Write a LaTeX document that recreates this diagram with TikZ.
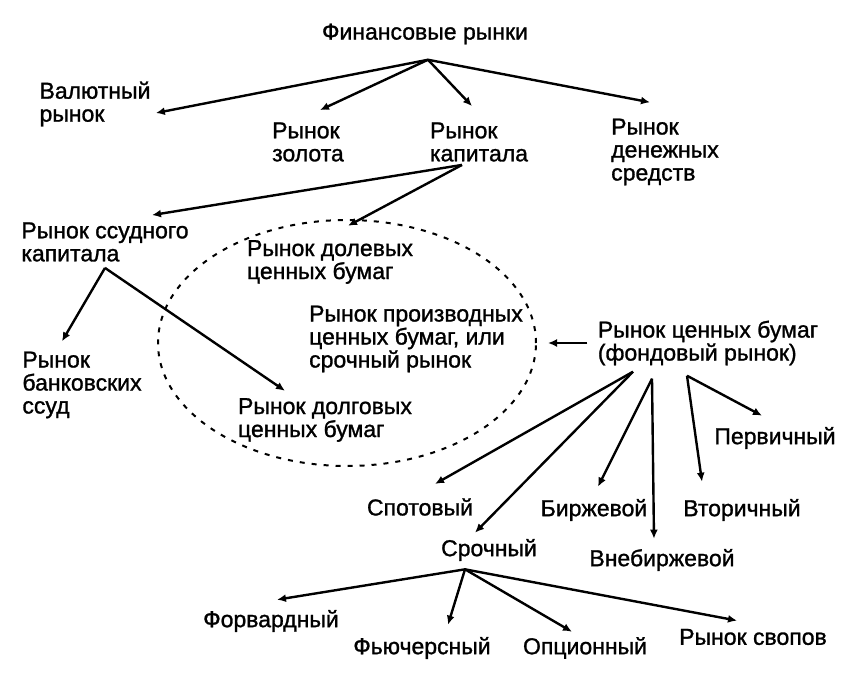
\documentclass[tikz,border=0pt]{standalone}
\usepackage{fontspec}
\setmainfont{Liberation Sans}[BoldFont = Liberation Sans, BoldFeatures = {FakeBold = 1.2}]
\usetikzlibrary{arrows.meta,shapes.geometric}

\tikzset{
	marketpicture/.style = {
		x = 0.5pt,
		y = -0.5pt,
		font = \fontsize{11.5}{11.5}\selectfont\bfseries,
		arrow/.style = {
			draw,
			line width = 1.2pt,
			-{Latex[length=4.5pt,width=4pt]},
		}
	},
	marketnode/.style = {
		align = left,
		inner sep = 1pt
	},
	zone/.style = {
		ellipse,
		draw,
		dash pattern = on 2.5pt off 3.5pt,
		line width = 1pt,
		minimum width = 189pt,
		minimum height = 123pt
	}
}

\begin{document}
\begin{tikzpicture}[marketpicture]
	\useasboundingbox (0,0) rectangle (859,681);

	% top level
	\node[marketnode] (fin) at (425,34) {Финансовые рынки};
	\node[marketnode] (val) at (95,104) {Валютный\\рынок};
	\node[marketnode] (gold) at (308,142) {Рынок\\золота};
	\node[marketnode] (cap) at (479,142) {Рынок\\капитала};
	\node[marketnode] (money) at (665,152) {Рынок\\денежных\\средств};

	% capital market
	\node[marketnode] (loan) at (105,242) {Рынок ссудного\\капитала};
	\node[zone] (zone) at (347,343) {};
	\node[marketnode] (equity) at (330,262) {Рынок долевых\\ценных бумаг};
	\node[marketnode] (deriv) at (416,339) {Рынок производных\\ценных бумаг, или\\срочный рынок};
	\node[marketnode] (debt) at (325,420) {Рынок долговых\\ценных бумаг};
	\node[marketnode] (bank) at (82,385) {Рынок\\банковских\\ссуд};

	% securities market
	\node[marketnode] (secur) at (708,343) {Рынок ценных бумаг\\(фондовый рынок)};
	\node[marketnode] (spot) at (420,507) {Спотовый};
	\node[marketnode] (fut) at (489,550) {Срочный};
	\node[marketnode] (exch) at (594,510) {Биржевой};
	\node[marketnode] (otc) at (662,560) {Внебиржевой};
	\node[marketnode] (second) at (742,510) {Вторичный};
	\node[marketnode] (prim) at (775,438) {Первичный};

	% derivatives
	\node[marketnode] (fwd) at (271,621) {Форвардный};
	\node[marketnode] (futures) at (422,648) {Фьючерсный};
	\node[marketnode] (option) at (585,648) {Опционный};
	\node[marketnode] (swap) at (753,637) {Рынок свопов};

	% branch points
	\coordinate (fin-r) at ([xshift=1.5pt,yshift=-6.5pt]fin.south);
	\coordinate (cap-r) at ([xshift=-8.5pt,yshift=-0.5pt]cap.south);
	\coordinate (loan-r) at ([yshift=-2pt]loan.south);
	\coordinate (secur-r1) at ([xshift=-37.5pt,yshift=-2pt]secur.south);
	\coordinate (secur-r2) at ([xshift=-28pt,yshift=-5.5pt]secur.south);
	\coordinate (secur-r3) at ([xshift=-10.5pt,yshift=-4pt]secur.south);
	\coordinate (fut-r) at ([xshift=-12pt,yshift=-3pt]fut.south);

	\begin{scope}[every path/.style = arrow]
		\path (fin-r) to ([xshift=1.5pt,yshift=-4.5pt]val.east);
		\path (fin-r) to ([xshift=6pt,yshift=5pt]gold.north);
		\path (fin-r) to ([xshift=-3.5pt,yshift=7pt]cap.north);
		\path (fin-r) to ([xshift=-7.5pt,yshift=7pt]money.north);

		\path (cap-r) to ([xshift=23.5pt,yshift=2.5pt]loan.north);
		\path (cap-r) to ([xshift=9pt,yshift=6pt]equity.north);

		\path (loan-r) to ([xshift=-10pt,yshift=4pt]bank.north);
		\path (loan-r) to ([xshift=-20pt,yshift=2.5pt]debt.north);

		\path[shorten <=4pt, shorten >=5.5pt] (secur.west) to (zone.east);

		\path (secur-r1) to ([xshift=7.5pt,yshift=6pt]spot.north);
		\path (secur-r1) to ([xshift=-7pt,yshift=2pt]fut.north);
		\path (secur-r2) to ([xshift=2pt,yshift=5pt]exch.north);
		\path (secur-r2) to ([xshift=-4pt,yshift=4pt]otc.north);
		\path (secur-r3) to ([xshift=-20pt,yshift=7.5pt]second.north);
		\path (secur-r3) to ([xshift=-6.5pt,yshift=4.5pt]prim.north);

		\path (fut-r) to ([xshift=3pt,yshift=4pt]fwd.north);
		\path (fut-r) to ([xshift=13pt,yshift=5pt]futures.north);
		\path (fut-r) to ([xshift=-6.5pt,yshift=1.5pt]option.north);
		\path (fut-r) to ([xshift=-8pt,yshift=3pt]swap.north);
	\end{scope}
\end{tikzpicture}
\end{document}
